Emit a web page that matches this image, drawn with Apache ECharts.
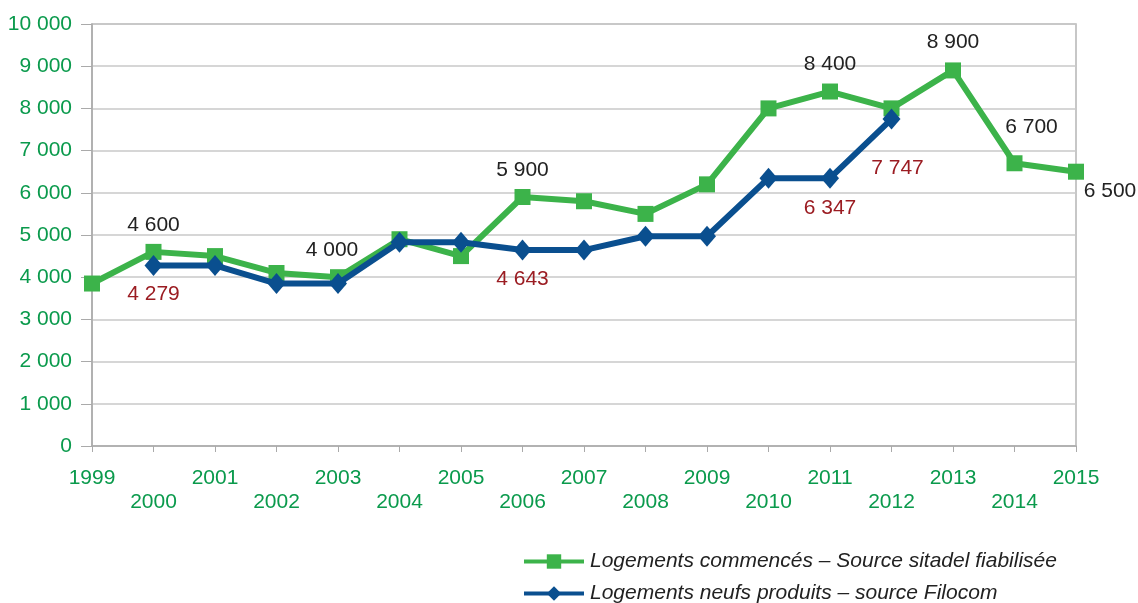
<!DOCTYPE html>
<html><head><meta charset="utf-8">
<script src="https://cdn.jsdelivr.net/npm/echarts@6/dist/echarts.min.js"></script>
<style>html,body{margin:0;padding:0;background:#fff}#c{width:1138px;height:603px}</style>
</head><body><div id="c"></div>
<script>
const years = ['1999','2000','2001','2002','2003','2004','2005','2006','2007','2008','2009','2010','2011','2012','2013','2014','2015'];
const commences = [3850,4600,4500,4100,4000,4900,4500,5900,5800,5500,6200,8000,8400,8000,8900,6700,6500];
const neufs = [null,4279,4279,3850,3850,4830,4830,4643,4643,4970,4970,6347,6347,7747,null,null,null];
const yTicks = [0,1000,2000,3000,4000,5000,6000,7000,8000,9000,10000];
const nameCommences = 'Logements commencés – Source sitadel fiabilisée';
const nameNeufs = 'Logements neufs produits – source Filocom';
// indices of labelled points and their label offsets
const greenLabels = {1:[0,-27],4:[-6,-27],7:[0,-27],12:[0,-27],14:[0,-28],15:[17,-36],16:[34,20]};
const blueLabels = {1:[0,29],7:[0,29],12:[0,30],13:[6,49]};

const fmt = v => String(v).replace(/\B(?=(\d{3})+(?!\d))/g, ' ');
const FONT = 'Liberation Sans, Arial, sans-serif';
const FS = 21;
function build(vals, labels, color){
  return vals.map((v,i)=>{
    const o = {value: v};
    if (labels[i]) o.label = {show:true, position:'inside', offset:labels[i], color:color, fontSize:FS, fontFamily:FONT, formatter: p=>fmt(p.value)};
    return o;
  });
}
const legendBase = {orient:'vertical',left:522,itemWidth:60,itemHeight:18,padding:0,
  lineStyle:{width:4},
  textStyle:{fontSize:FS,fontStyle:'italic',color:'#222',fontFamily:FONT,padding:[0,0,0,1]}};
const chart = echarts.init(document.getElementById('c'));
chart.setOption({
  animation:false,
  grid:{left:92,right:62,top:24,bottom:157,show:true,borderColor:'#b5b5b5',borderWidth:1.5},
  legend:[
    Object.assign({}, legendBase, {top:551, data:[nameCommences]}),
    Object.assign({}, legendBase, {top:583, data:[nameNeufs]})
  ],
  xAxis:{type:'category',data:years,boundaryGap:false,
    axisLine:{lineStyle:{color:'#aaa',width:1.5}},
    axisTick:{show:true,length:6,lineStyle:{color:'#aaa'}},
    axisLabel:{color:'#0a9a4c',fontSize:FS,fontFamily:FONT,margin:20,lineHeight:24,interval:0,
      formatter:(v,i)=> i%2 ? '\n'+v : v}},
  yAxis:{type:'value',min:0,max:10000,interval:1000,
    axisLine:{show:true,lineStyle:{color:'#aaa',width:1.5}},
    axisTick:{show:true,length:11,lineStyle:{color:'#aaa'}},
    splitLine:{lineStyle:{color:'#c8c8c8',width:1.5}},
    axisLabel:{color:'#0a9a4c',fontSize:FS,fontFamily:FONT,margin:20,
      formatter:v=> yTicks.includes(v) ? fmt(v) : ''}},
  series:[
    {name:nameCommences,type:'line',data:build(commences,greenLabels,'#222'),
      symbol:'rect',symbolSize:16,lineStyle:{color:'#3cb34a',width:6},itemStyle:{color:'#3cb34a'},z:2},
    {name:nameNeufs,type:'line',data:build(neufs,blueLabels,'#9b1c22'),connectNulls:false,
      symbol:'diamond',symbolSize:[18,21],lineStyle:{color:'#0a4f8f',width:6},itemStyle:{color:'#0a4f8f'},z:3}
  ]
});
</script></body></html>
